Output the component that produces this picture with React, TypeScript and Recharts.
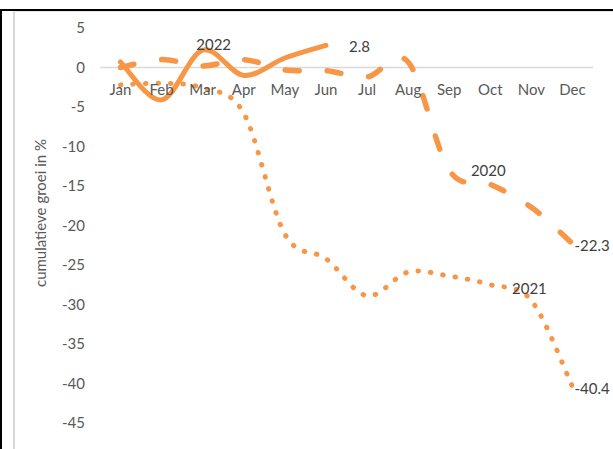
import React from 'react';
import { LineChart, Line, XAxis, YAxis, ReferenceLine, LabelList } from 'recharts';

const months = ['Jan', 'Feb', 'Mar', 'Apr', 'May', 'Jun', 'Jul', 'Aug', 'Sep', 'Oct', 'Nov', 'Dec'];
const growth2020 = [0, 1.0, 0.2, 1.0, -0.3, -0.4, -1.2, 0.7, -13.0, -14.8, -17.7, -22.3];
const growth2021 = [-2.2, -2.0, -2.6, -5.8, -21.1, -24.2, -28.9, -25.9, -26.4, -27.5, -29.5, -40.4];
const growth2022 = [0.7, -4.1, 2.2, -1.0, 1.2, 2.8];
const yTicks = [5, 0, -5, -10, -15, -20, -25, -30, -35, -40, -45];

const W = 613;
const H = 449;
const PLOT_TOP = 28;
const PLOT_BOTTOM = 423;
const Y_MAX = 5;
const Y_MIN = -45;
const ORANGE = '#F79646';
const FONT = 'Lato, "Open Sans", sans-serif';
const FS = 15;

const chartData = months.map((m, i) => ({
  month: m,
  y2020: growth2020[i],
  y2021: growth2021[i],
  y2022: i < growth2022.length ? growth2022[i] : null,
}));

// Excel-style smoothed line (uniform Catmull-Rom as cubic beziers)
const excelSmooth = (context: any) => {
  let pts: number[][] = [];
  return {
    areaStart() {},
    areaEnd() {},
    lineStart() {
      pts = [];
    },
    point(x: number, y: number) {
      pts.push([+x, +y]);
    },
    lineEnd() {
      const n = pts.length;
      if (!n) return;
      context.moveTo(pts[0][0], pts[0][1]);
      for (let i = 0; i < n - 1; i++) {
        const p0 = pts[Math.max(i - 1, 0)];
        const p1 = pts[i];
        const p2 = pts[i + 1];
        const p3 = pts[Math.min(i + 2, n - 1)];
        context.bezierCurveTo(
          p1[0] + (p2[0] - p0[0]) / 6,
          p1[1] + (p2[1] - p0[1]) / 6,
          p2[0] - (p3[0] - p1[0]) / 6,
          p2[1] - (p3[1] - p1[1]) / 6,
          p2[0],
          p2[1]
        );
      }
    },
  };
};

const zeroY = PLOT_TOP + ((Y_MAX - 0) / (Y_MAX - Y_MIN)) * (PLOT_BOTTOM - PLOT_TOP);

const MonthTick = ({ x, payload }: any) => (
  <text x={x} y={zeroY + 21} textAnchor="middle" dominantBaseline="central" fill="#595959" fontSize={FS} fontFamily={FONT}>
    {payload.value}
  </text>
);

const makeLabel =
  (name: string, nameIdx: number, nameDx: number, nameDy: number, lastIdx: number, endDx: number) =>
  (props: any) => {
    const { x, y, index, value } = props;
    const style = { fill: '#404040', fontSize: FS, fontFamily: FONT };
    if (index === nameIdx) {
      return (
        <text x={x + nameDx} y={y + nameDy} textAnchor="middle" dominantBaseline="central" {...style}>
          {name}
        </text>
      );
    }
    if (index === lastIdx) {
      return (
        <text x={x + endDx} y={y + 1} textAnchor="start" dominantBaseline="central" {...style}>
          {value}
        </text>
      );
    }
    return null;
  };

export default function App() {
  return (
    <div style={{ position: 'fixed', left: 0, top: 0, width: W, height: H, background: '#fff', overflow: 'hidden' }}>
      <div style={{ position: 'absolute', left: 0, top: 9, width: W, height: 2, background: '#000' }} />
      <div style={{ position: 'absolute', left: 0, top: 9, width: 2, height: H, background: '#000' }} />
      <div style={{ position: 'absolute', left: 13, top: 11, width: 2, height: H, background: '#D9D9D9' }} />
      <div style={{ position: 'absolute', left: 13, top: 11, width: W, height: 1, background: '#E6E6E6' }} />
      <div style={{ position: 'absolute', left: 0, top: 0 }}>
        <LineChart width={W} height={H} data={chartData} margin={{ top: PLOT_TOP, right: 20, bottom: 0, left: 0 }}>
          <XAxis
            dataKey="month"
            height={H - PLOT_BOTTOM}
            axisLine={false}
            tickLine={false}
            padding={{ left: 20.5, right: 20.5 }}
            interval={0}
            tick={<MonthTick />}
          />
          <YAxis
            width={100}
            domain={[Y_MIN, Y_MAX]}
            ticks={yTicks}
            axisLine={false}
            tickLine={false}
            tickSize={0}
            tickMargin={15}
            interval={0}
            tick={{ fill: '#595959', fontSize: FS, fontFamily: FONT }}
            label={{
              content: () => (
                <text
                  x={40}
                  y={213}
                  transform="rotate(-90, 40, 213)"
                  textAnchor="middle"
                  dominantBaseline="central"
                  fill="#595959"
                  fontSize={FS}
                  fontFamily={FONT}
                >
                  cumulatieve groei in %
                </text>
              ),
            }}
          />
          <ReferenceLine y={0} stroke="#D9D9D9" strokeWidth={1.5} />
          <Line
            dataKey="y2020"
            type={excelSmooth as any}
            stroke={ORANGE}
            strokeWidth={5.5}
            strokeDasharray="14 28"
            strokeLinecap="round"
            dot={false}
            activeDot={false}
            isAnimationActive={false}
          >
            <LabelList dataKey="y2020" content={makeLabel('2020', 9, -2, -14, 11, 2)} />
          </Line>
          <Line
            dataKey="y2021"
            type={excelSmooth as any}
            stroke={ORANGE}
            strokeWidth={5}
            strokeDasharray="0.5 12"
            strokeLinecap="round"
            dot={false}
            activeDot={false}
            isAnimationActive={false}
          >
            <LabelList dataKey="y2021" content={makeLabel('2021', 10, -2, -13, 11, 2)} />
          </Line>
          <Line
            dataKey="y2022"
            type={excelSmooth as any}
            stroke={ORANGE}
            strokeWidth={5}
            strokeLinecap="round"
            dot={false}
            activeDot={false}
            isAnimationActive={false}
          >
            <LabelList dataKey="y2022" content={makeLabel('2022', 2, 11, -6, 5, 23)} />
          </Line>
        </LineChart>
      </div>
    </div>
  );
}
